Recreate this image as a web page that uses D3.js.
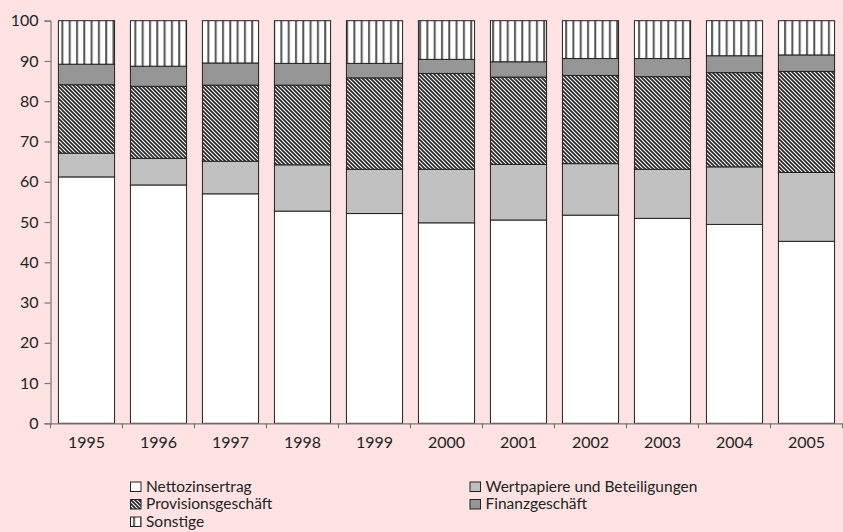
<!DOCTYPE html>
<html>
<head>
<meta charset="utf-8">
<script src="https://cdn.jsdelivr.net/npm/d3@7"></script>
<style>
  body { margin: 0; background: #ffe3e3; }
  svg { display: block; font-family: Lato, "DejaVu Sans", sans-serif; }
</style>
</head>
<body>
<svg id="chart" width="843" height="532"></svg>
<script>
// Anteile der Ertragskomponenten in %
var years = ["1995", "1996", "1997", "1998", "1999", "2000", "2001", "2002", "2003", "2004", "2005"];
var nettozins   = [61.2, 59.2, 57.0, 52.7, 52.1, 49.8, 50.5, 51.7, 50.9, 49.4, 45.2];
var wertpapiere = [5.9, 6.6, 8.1, 11.5, 11.0, 13.3, 13.8, 12.8, 12.2, 14.3, 17.1];
var provision   = [17.0, 17.9, 18.9, 19.8, 22.7, 23.8, 21.7, 21.9, 23.0, 23.4, 25.1];
var finanz      = [5.1, 5.0, 5.5, 5.4, 3.6, 3.5, 3.8, 4.2, 4.5, 4.2, 4.1];
var sonstige    = [10.8, 11.3, 10.5, 10.6, 10.6, 9.6, 10.2, 9.4, 9.4, 8.7, 8.5];
var seriesNames = ["Nettozinsertrag", "Wertpapiere und Beteiligungen", "Provisionsgeschäft", "Finanzgeschäft", "Sonstige"];
var yTicks = [0, 10, 20, 30, 40, 50, 60, 70, 80, 90, 100];

var rows = years.map(function(y, i) {
  return {
    year: y,
    "Nettozinsertrag": nettozins[i],
    "Wertpapiere und Beteiligungen": wertpapiere[i],
    "Provisionsgeschäft": provision[i],
    "Finanzgeschäft": finanz[i],
    "Sonstige": sonstige[i]
  };
});

var svg = d3.select("#chart");
var margin = {left: 50.5, right: 0.5, top: 20.7, bottom: 108.7};
var W = 843, H = 532;

var x = d3.scaleBand().domain(years)
  .range([margin.left, W - margin.right])
  .paddingInner(0.22).paddingOuter(0.11);
var y = d3.scaleLinear().domain([0, 100]).range([H - margin.bottom, margin.top]);

//--------------------------Muster------------------------------------
var defs = svg.append("defs");
var diag = defs.append("pattern").attr("id", "diag")
  .attr("patternUnits", "userSpaceOnUse").attr("width", 4).attr("height", 4);
diag.append("rect").attr("width", 4).attr("height", 4).attr("fill", "#fff");
diag.append("path").attr("d", "M-1,-1 L5,5 M-1,3 L1,5 M3,-1 L5,1")
  .attr("stroke", "#2a2a2a").attr("stroke-width", 1.8);

var vert = defs.append("pattern").attr("id", "vert")
  .attr("patternUnits", "userSpaceOnUse").attr("width", 7.3).attr("height", 10)
  .attr("x", 2);
vert.append("rect").attr("width", 7.3).attr("height", 10).attr("fill", "#fff");
vert.append("rect").attr("x", 1).attr("width", 2).attr("height", 10).attr("fill", "#555");

var fills = {
  "Nettozinsertrag": "#ffffff",
  "Wertpapiere und Beteiligungen": "#c0c0c0",
  "Provisionsgeschäft": "url(#diag)",
  "Finanzgeschäft": "#969696",
  "Sonstige": "url(#vert)"
};

//--------------------------Balken------------------------------------
var stacked = d3.stack().keys(seriesNames)(rows);

svg.append("g").selectAll("g")
  .data(stacked).enter()
  .append("g")
  .attr("fill", function(d) { return fills[d.key]; })
  .selectAll("rect")
  .data(function(d) { return d; }).enter()
  .append("rect")
  .attr("x", function(d) { return x(d.data.year); })
  .attr("y", function(d) { return y(d[1]); })
  .attr("width", x.bandwidth())
  .attr("height", function(d) { return y(d[0]) - y(d[1]); })
  .attr("stroke", "#222")
  .attr("stroke-width", 1);

//--------------------------Achsen------------------------------------
var yAxis = svg.append("g")
  .attr("transform", "translate(" + margin.left + ",0)")
  .call(d3.axisLeft(y).tickValues(yTicks).tickSize(6).tickPadding(6));
var xAxis = svg.append("g")
  .attr("transform", "translate(0," + (H - margin.bottom) + ")")
  .call(d3.axisBottom(x).tickSize(0).tickPadding(13));

// Teilstriche zwischen den Kategorien
var step = x.step();
xAxis.selectAll(".sep")
  .data(d3.range(years.length + 1)).enter()
  .append("line")
  .attr("class", "sep")
  .attr("x1", function(i) { return margin.left + i * step; })
  .attr("x2", function(i) { return margin.left + i * step; })
  .attr("y1", 0).attr("y2", 5)
  .attr("stroke", "#777").attr("stroke-width", 1.2);

[yAxis, xAxis].forEach(function(ax) {
  ax.select(".domain").attr("stroke", "#777").attr("stroke-width", 1.2);
  ax.selectAll(".tick line").attr("stroke", "#777").attr("stroke-width", 1.2);
  ax.selectAll("text").attr("fill", "#222").style("font-size", "16px").style("font-family", "Lato, 'DejaVu Sans', sans-serif");
});

//--------------------------Legende------------------------------------
var legendPos = [
  {x: 130, y: 481.5}, {x: 469.5, y: 481.5},
  {x: 130, y: 499}, {x: 469.5, y: 499},
  {x: 130, y: 516.5}
];
var legend = svg.append("g").selectAll("g")
  .data(seriesNames).enter()
  .append("g")
  .attr("transform", function(d, i) { return "translate(" + legendPos[i].x + "," + legendPos[i].y + ")"; });
legend.append("rect")
  .attr("x", 0.5).attr("y", 0.5).attr("width", 10.5).attr("height", 9.5)
  .attr("fill", function(d) { return fills[d]; })
  .attr("stroke", "#222").attr("stroke-width", 1);
legend.append("text")
  .attr("x", 16).attr("y", 10)
  .attr("fill", "#222")
  .style("font-size", "15.5px")
  .text(function(d) { return d; });
</script>
</body>
</html>
